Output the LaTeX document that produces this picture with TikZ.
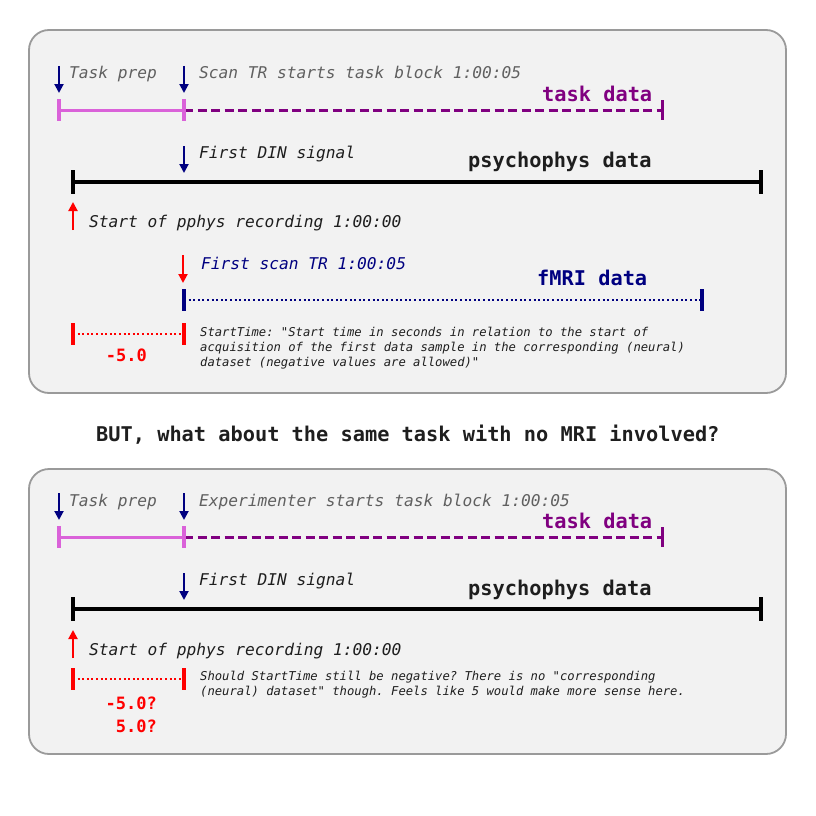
\documentclass[tikz,border=0pt]{standalone}
\usepackage{fontspec}
\setmonofont{DejaVu Sans Mono}
\usetikzlibrary{arrows.meta}
\definecolor{navy}{HTML}{000080}
\definecolor{purp}{HTML}{800080}
\definecolor{orch}{HTML}{DA62D9}
\definecolor{boxfill}{HTML}{F2F2F2}
\definecolor{boxline}{HTML}{9A9A9A}
\definecolor{gtext}{HTML}{606060}
\definecolor{ktext}{HTML}{1E1E1E}
\newcommand\tickmark[4]{\draw[#1,line width=#4] ([yshift=#3]#2) -- ([yshift=-#3]#2);}
\begin{document}
\begin{tikzpicture}[x=1pt,y=-1pt,
  panel/.style={draw=boxline,line width=1.8pt,fill=boxfill,rounded corners=20pt},
  lbl/.style={anchor=base west,inner sep=0pt,font=\ttfamily\itshape\fontsize{16.2}{19}\selectfont},
  big/.style={anchor=base west,inner sep=0pt,font=\ttfamily\bfseries\fontsize{20.3}{24}\selectfont},
  small/.style={anchor=base west,inner sep=0pt,font=\ttfamily\itshape\fontsize{12.2}{15}\selectfont,text=ktext},
  num/.style={anchor=base east,inner sep=0pt,font=\ttfamily\bfseries\fontsize{17}{20}\selectfont,text=red},
  marker/.style={line width=2pt,-{Triangle[length=9pt,width=9pt]}},
  tline/.style={line width=3pt},
  dotline/.style={line width=2.6pt,dash pattern=on 2pt off 2.6pt},
]
\useasboundingbox (0,0) rectangle (816,816);

% ---------------- panel 1 ----------------
\path[panel] (29,30) rectangle (786,393);

\coordinate (p1a) at (59,66);  \coordinate (p1b) at (59,93);
\coordinate (s1a) at (184,66); \coordinate (s1b) at (184,93);
\draw[navy,marker] (p1a) -- (p1b);
\draw[navy,marker] (s1a) -- (s1b);
\node[lbl,text=gtext] (tprep1) at (69,78) {Task prep};
\node[lbl,text=gtext] (scan1) at (199,78) {Scan TR starts task block 1:00:05};

\coordinate (tp1) at (59,110); \coordinate (ts1) at (184,110); \coordinate (te1) at (662,110);
\draw[orch,tline] (tp1) -- (ts1);
\draw[purp,tline,dash pattern=on 9pt off 4.5pt] (ts1) -- (te1);
\tickmark{orch}{tp1}{11pt}{3.5pt}
\tickmark{orch}{ts1}{11pt}{3.5pt}
\tickmark{purp}{te1}{10pt}{3pt}
\node[big,text=purp] (td1) at (542,101) {task data};

\coordinate (d1a) at (184,146); \coordinate (d1b) at (184,173);
\draw[navy,marker] (d1a) -- (d1b);
\node[lbl,text=ktext] (din1) at (199,158) {First DIN signal};
\node[big,text=ktext] (pp1) at (468,167) {psychophys data};

\coordinate (ps1) at (73,182); \coordinate (pe1) at (761,182);
\draw[black,line width=3.5pt] (ps1) -- (pe1);
\tickmark{black}{ps1}{12pt}{3.5pt}
\tickmark{black}{pe1}{12pt}{3.5pt}

\coordinate (u1a) at (73,230); \coordinate (u1b) at (73,202);
\draw[red,marker] (u1a) -- (u1b);
\node[lbl,text=ktext] (start1) at (89,227) {Start of pphys recording 1:00:00};

\coordinate (r1a) at (183,255); \coordinate (r1b) at (183,283);
\draw[red,marker] (r1a) -- (r1b);
\node[lbl,text=navy] (fscan) at (201,269) {First scan TR 1:00:05};

\coordinate (fs) at (184,300); \coordinate (fe) at (702,300);
\draw[navy,dotline] (fs) -- (fe);
\tickmark{navy}{fs}{11pt}{3.5pt}
\tickmark{navy}{fe}{11pt}{3.5pt}
\node[big,text=navy] (fmri) at (537,285) {fMRI data};

\coordinate (o1s) at (73,334); \coordinate (o1e) at (184,334);
\draw[red,dotline] (o1s) -- (o1e);
\tickmark{red}{o1s}{11pt}{3.5pt}
\tickmark{red}{o1e}{11pt}{3.5pt}
\node[num] (neg1) at (147,361) {-5.0};

\node[small] (st1a) at (200,336) {StartTime: "Start time in seconds in relation to the start of};
\node[small] (st1b) at (200,351) {acquisition of the first data sample in the corresponding (neural)};
\node[small] (st1c) at (200,366) {dataset (negative values are allowed)"};

% ---------------- middle question ----------------
\node[big,text=ktext] (but) at (96,441) {BUT, what about the same task with no MRI involved?};

% ---------------- panel 2 ----------------
\path[panel] (29,469) rectangle (786,754);

\coordinate (p2a) at (59,493);  \coordinate (p2b) at (59,520);
\coordinate (s2a) at (184,493); \coordinate (s2b) at (184,520);
\draw[navy,marker] (p2a) -- (p2b);
\draw[navy,marker] (s2a) -- (s2b);
\node[lbl,text=gtext] (tprep2) at (69,506) {Task prep};
\node[lbl,text=gtext] (exp2) at (199,506) {Experimenter starts task block 1:00:05};

\coordinate (tp2) at (59,537); \coordinate (ts2) at (184,537); \coordinate (te2) at (662,537);
\draw[orch,tline] (tp2) -- (ts2);
\draw[purp,tline,dash pattern=on 9pt off 4.5pt] (ts2) -- (te2);
\tickmark{orch}{tp2}{11pt}{3.5pt}
\tickmark{orch}{ts2}{11pt}{3.5pt}
\tickmark{purp}{te2}{10pt}{3pt}
\node[big,text=purp] (td2) at (542,528) {task data};

\coordinate (d2a) at (184,573); \coordinate (d2b) at (184,600);
\draw[navy,marker] (d2a) -- (d2b);
\node[lbl,text=ktext] (din2) at (199,585) {First DIN signal};
\node[big,text=ktext] (pp2) at (468,595) {psychophys data};

\coordinate (ps2) at (73,609); \coordinate (pe2) at (761,609);
\draw[black,line width=3.5pt] (ps2) -- (pe2);
\tickmark{black}{ps2}{12pt}{3.5pt}
\tickmark{black}{pe2}{12pt}{3.5pt}

\coordinate (u2a) at (73,658); \coordinate (u2b) at (73,630);
\draw[red,marker] (u2a) -- (u2b);
\node[lbl,text=ktext] (start2) at (89,655) {Start of pphys recording 1:00:00};

\coordinate (o2s) at (73,679); \coordinate (o2e) at (184,679);
\draw[red,dotline] (o2s) -- (o2e);
\tickmark{red}{o2s}{11pt}{3.5pt}
\tickmark{red}{o2e}{11pt}{3.5pt}
\node[num] (neg2) at (157,709) {-5.0?};
\node[num] (pos2) at (157,732) {5.0?};

\node[small] (st2a) at (200,680) {Should StartTime still be negative? There is no "corresponding};
\node[small] (st2b) at (200,695) {(neural) dataset" though. Feels like 5 would make more sense here.};
\end{tikzpicture}
\end{document}
